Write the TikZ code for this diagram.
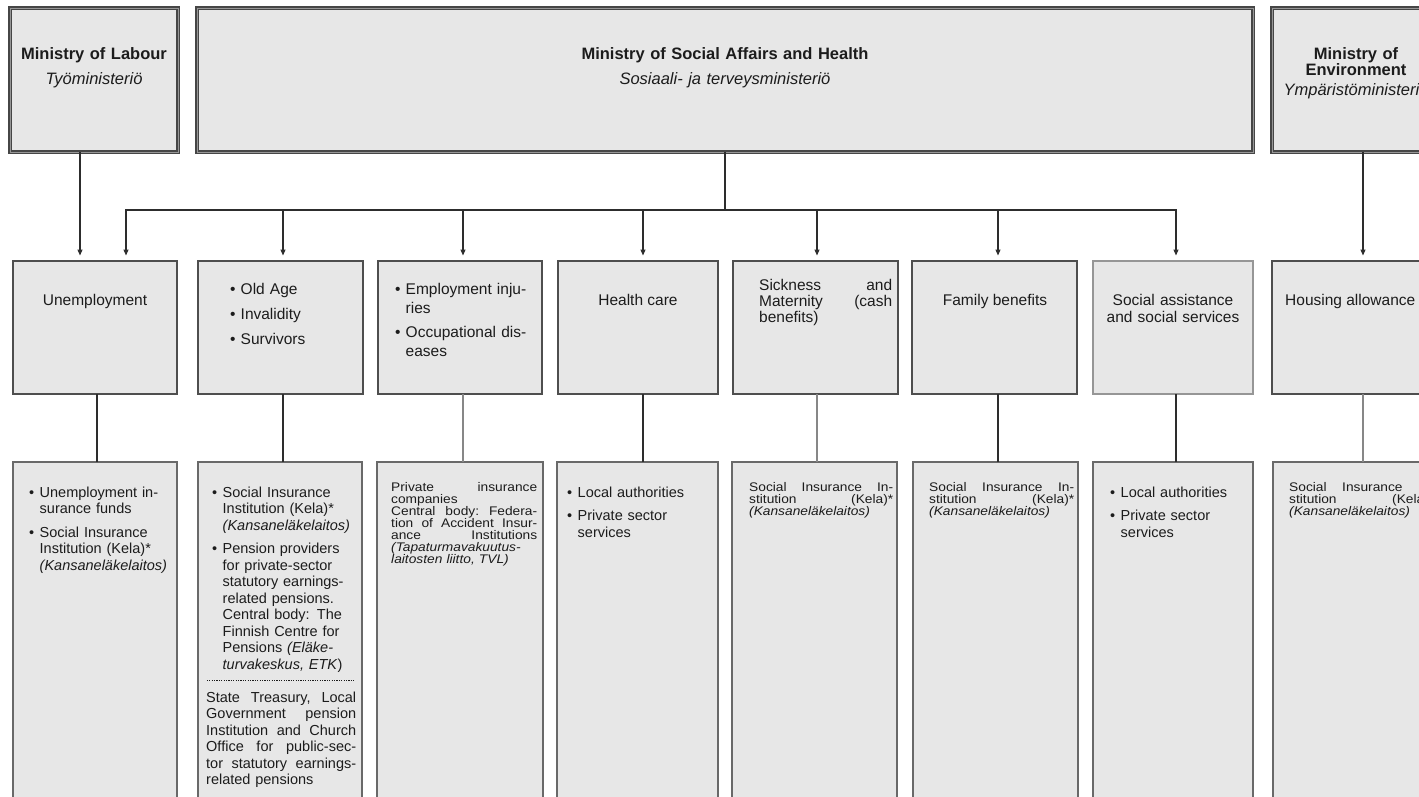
\documentclass[tikz,border=0pt]{standalone}
\usepackage{fontspec}
\setmainfont{Liberation Sans}
\newfontfamily\cmpfont{Liberation Sans}[FakeStretch=1.1]
\usetikzlibrary{arrows.meta}
\definecolor{boxfill}{RGB}{231,231,231}
\definecolor{edge}{RGB}{78,78,78}
\definecolor{topedge}{RGB}{70,70,70}
\definecolor{topinner}{RGB}{150,150,150}
\definecolor{edgelight}{RGB}{150,150,150}
\definecolor{conn}{RGB}{45,45,45}
\definecolor{connlight}{RGB}{135,135,135}
\definecolor{txt}{RGB}{28,28,28}
\newcommand\mybul{\makebox[10.5pt][l]{•}}
\newcommand\mydash{\leavevmode\leaders\hbox to 2.4pt{\hss\rule[4.5pt]{1.2pt}{0.6pt}\hss}\hfill\null}
\begin{document}
\begin{tikzpicture}[x=1pt,y=-1pt,
 topbox/.style={draw=topedge,line width=1.2pt,double=topinner,double distance=0.9pt,fill=boxfill,inner sep=0pt,outer sep=0pt,anchor=north west,minimum height=144pt},
 midbox/.style={draw=edge,line width=1.4pt,fill=boxfill,inner sep=0pt,outer sep=0pt,anchor=north west,minimum height=133pt},
 botbox/.style={draw=edge!85,line width=1.1pt,fill=boxfill,inner sep=0pt,outer sep=0pt,anchor=north west,minimum height=360pt},
 arr/.style={draw=conn,line width=1.2pt,-{Triangle[width=5pt,length=6pt]},shorten >=5.5pt},
 ln/.style={draw=conn,line width=1.2pt},
 lnl/.style={draw=connlight,line width=1.2pt},
 ttxt/.style={text=txt,inner sep=0pt,font=\fontsize{16.5}{19}\selectfont,align=center,anchor=base},
 mtxt/.style={text=txt,inner sep=0pt,font=\fontsize{15.5}{18.5}\selectfont},
 btxt/.style={text=txt,inner sep=0pt,font=\fontsize{14.5}{16.5}\selectfont,align=left,anchor=base west},
 ctxt/.style={text=txt,inner sep=0pt,font=\cmpfont\fontsize{12.5}{12}\selectfont,align=left,anchor=base west},
]
\path[use as bounding box,fill=white] (0,0) rectangle (1419,796);
\clip (0,0) rectangle (1419,796);

% top row
\node[topbox,minimum width=168pt] (lab) at (10,8) {};
\node[topbox,minimum width=1056pt] (msa) at (197,8) {};
\node[topbox,minimum width=168pt] (env) at (1272,8) {};

% middle row
\node[midbox,minimum width=164pt] (m1) at (13,261) {};
\node[midbox,minimum width=165pt] (m2) at (198,261) {};
\node[midbox,minimum width=164pt] (m3) at (378,261) {};
\node[midbox,minimum width=160pt] (m4) at (558,261) {};
\node[midbox,minimum width=165pt] (m5) at (733,261) {};
\node[midbox,minimum width=165pt] (m6) at (912,261) {};
\node[midbox,minimum width=160pt,draw=edgelight,line width=1.1pt] (m7) at (1093,261) {};
\node[midbox,minimum width=168pt] (m8) at (1272,261) {};

% bottom row
\node[botbox,minimum width=164pt] (b1) at (13,462) {};
\node[botbox,minimum width=164pt] (b2) at (198,462) {};
\node[botbox,minimum width=166pt] (b3) at (377,462) {};
\node[botbox,minimum width=161pt] (b4) at (557,462) {};
\node[botbox,minimum width=165pt] (b5) at (732,462) {};
\node[botbox,minimum width=165pt] (b6) at (913,462) {};
\node[botbox,minimum width=160pt] (b7) at (1093,462) {};
\node[botbox,minimum width=167pt] (b8) at (1273,462) {};

% connectors top -> middle
\coordinate (bus) at (725,210);
\draw[arr] ([xshift=-14pt]lab.south) -- ([xshift=-15pt]m1.north);
\draw[ln] (msa.south) -- (bus);
\draw[arr] (bus) -| ([xshift=31pt]m1.north);
\draw[arr] (bus) -| ([xshift=2.5pt]m2.north);
\draw[arr] (bus) -| ([xshift=3pt]m3.north);
\draw[arr] (bus) -| ([xshift=5pt]m4.north);
\draw[arr] (bus) -| ([xshift=1.5pt]m5.north);
\draw[arr] (bus) -| ([xshift=3.5pt]m6.north);
\draw[arr] (bus) -| ([xshift=3pt]m7.north);
\draw[arr] ([xshift=7pt]env.south) -- ([xshift=7pt]m8.north);

% connectors middle -> bottom
\draw[ln] ([xshift=2pt]m1.south) -- ([xshift=2pt]b1.north);
\draw[ln] ([xshift=2.5pt]m2.south) -- ([xshift=3pt]b2.north);
\draw[lnl] ([xshift=3pt]m3.south) -- ([xshift=3pt]b3.north);
\draw[ln] ([xshift=5pt]m4.south) -- ([xshift=5.5pt]b4.north);
\draw[lnl] ([xshift=1.5pt]m5.south) -- ([xshift=2.5pt]b5.north);
\draw[ln] ([xshift=3.5pt]m6.south) -- ([xshift=2.5pt]b6.north);
\draw[ln] ([xshift=3pt]m7.south) -- ([xshift=3pt]b7.north);
\draw[lnl] ([xshift=7pt]m8.south) -- ([xshift=6.5pt]b8.north);

% top texts
\node[ttxt,text width=165pt] (labt) at (94,59) {\bfseries Ministry of Labour\\[6pt]\mdseries\itshape Työministeriö};
\node[ttxt,text width=500pt] (msat) at (725,59) {\bfseries Ministry of Social Affairs and Health\\[6pt]\mdseries\itshape Sosiaali- ja terveysministeriö};
\node[ttxt,text width=170pt,font=\fontsize{16.5}{15}\selectfont] (envt) at (1356,59) {\bfseries Ministry of\\Environment\\[5pt]\mdseries\itshape Ympäristöministeriö};

% middle texts
\node[mtxt,anchor=base] (m1t) at (95,305.6) {Unemployment};
\node[mtxt,anchor=base west,align=left,text width=128pt] (m2t) at (230,294.6) {\mybul Old Age\\[6.5pt]\mybul Invalidity\\[6.5pt]\mybul Survivors};
\node[mtxt,anchor=base west,align=left,text width=145pt] (m3t) at (395,294.6) {\mybul Employment inju-\\\hspace*{10.5pt}ries\\[6pt]\mybul Occupational dis-\\\hspace*{10.5pt}eases};
\node[mtxt,anchor=base] (m4t) at (638,305.6) {Health care};
\node[mtxt,anchor=base west,align=left,text width=133pt,font=\fontsize{15.5}{16}\selectfont] (m5t) at (759,290.6) {Sickness\hfill and\\Maternity\hfill (cash\\benefits)};
\node[mtxt,anchor=base] (m6t) at (995,305.6) {Family benefits};
\node[mtxt,anchor=base,align=center,text width=155pt,font=\fontsize{15.5}{17}\selectfont] (m7t) at (1173,305.6) {Social assistance\\and social services};
\node[mtxt,anchor=base west] (m8t) at (1285,305.6) {Housing allowance};

% bottom texts
\node[btxt,text width=146pt] (b1t) at (29,497) {\mybul Unemployment in-\\\hspace*{10.5pt}surance funds\\[7pt]\mybul Social Insurance\\\hspace*{10.5pt}Institution (Kela)*\\\hspace*{10.5pt}\textit{(Kansaneläkelaitos)}};
\node[btxt,text width=150pt] (b2t) at (206,497) {\hspace*{6pt}\mybul Social Insurance\\\hspace*{16.5pt}Institution (Kela)*\\\hspace*{16.5pt}\textit{(Kansaneläkelaitos)}\\[7pt]\hspace*{6pt}\mybul Pension providers\\\hspace*{16.5pt}for private-sector\\\hspace*{16.5pt}statutory earnings-\\\hspace*{16.5pt}related pensions.\\\hspace*{16.5pt}Central body: The\\\hspace*{16.5pt}Finnish Centre for\\\hspace*{16.5pt}Pensions \textit{(Eläke-}\\\hspace*{16.5pt}\textit{turvakeskus, ETK})\\\mydash\\State\hfill Treasury,\hfill Local\\Government\hfill pension\\Institution\hfill and\hfill Church\\Office\hfill for\hfill public-sec-\\tor\hfill statutory\hfill earnings-\\related pensions};
\node[ctxt,text width=146pt] (b3t) at (391,491.3) {Private\hfill insurance\\companies\\Central\hfill body:\hfill Federa-\\tion\hfill of\hfill Accident\hfill Insur-\\ance\hfill Institutions\\\textit{(Tapaturmavakuutus-}\\\textit{laitosten liitto, TVL)}};
\node[btxt,text width=145pt] (b4t) at (567,497) {\mybul Local authorities\\[7pt]\mybul Private sector\\\hspace*{10.5pt}services};
\node[ctxt,text width=144pt] (b5t) at (749,491.3) {Social\hfill Insurance\hfill In-\\stitution\hfill (Kela)*\\\textit{(Kansaneläkelaitos)}};
\node[ctxt,text width=145pt] (b6t) at (929,491.3) {Social\hfill Insurance\hfill In-\\stitution\hfill (Kela)*\\\textit{(Kansaneläkelaitos)}};
\node[btxt,text width=140pt] (b7t) at (1110,497) {\mybul Local authorities\\[7pt]\mybul Private sector\\\hspace*{10.5pt}services};
\node[ctxt,text width=145pt] (b8t) at (1289,491.3) {Social\hfill Insurance\hfill In-\\stitution\hfill (Kela)*\\\textit{(Kansaneläkelaitos)}};
\end{tikzpicture}
\end{document}
